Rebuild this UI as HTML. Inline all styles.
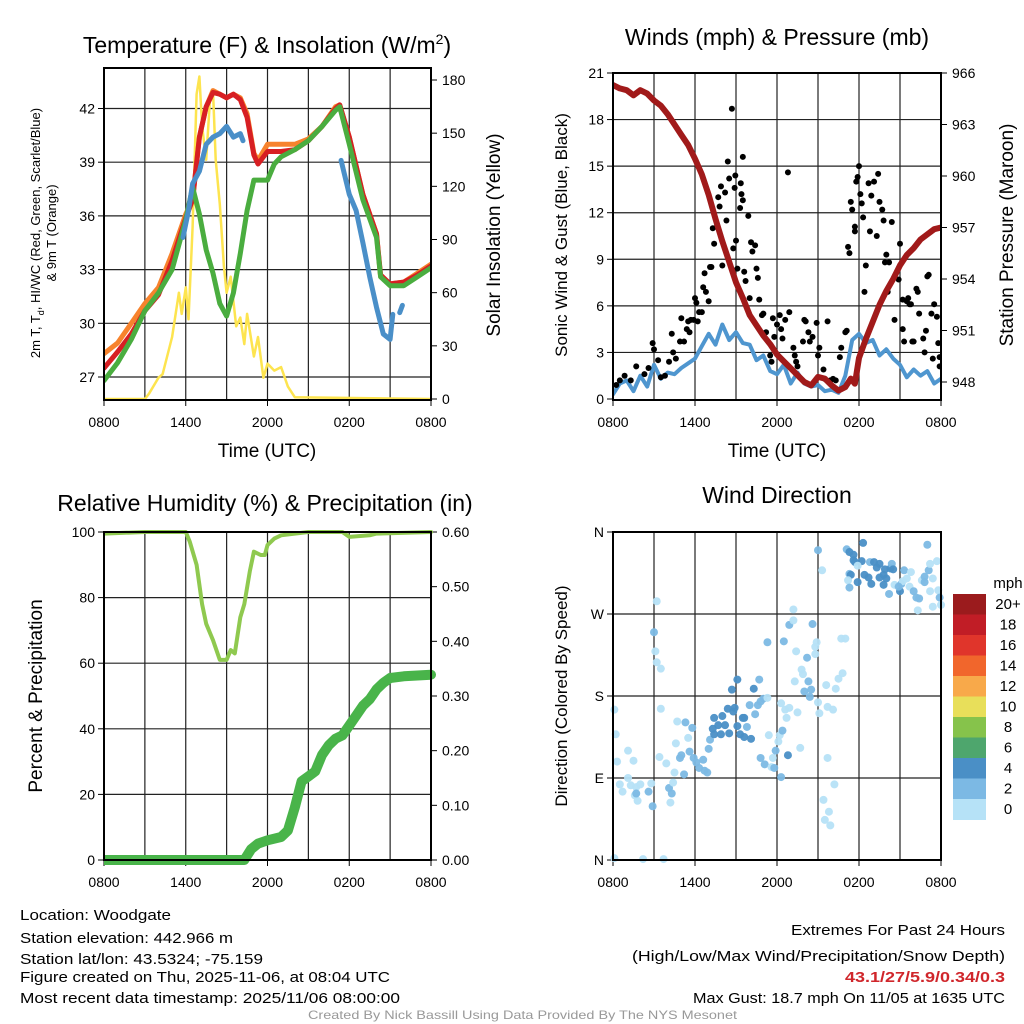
<!DOCTYPE html>
<html><head><meta charset="utf-8"><style>
html,body{margin:0;padding:0;background:#fff}
svg{display:block}
text{font-family:"Liberation Sans",sans-serif;fill:#000}
</style></head><body>
<svg id="fig" width="1024" height="1024" viewBox="0 0 1024 1024" xmlns="http://www.w3.org/2000/svg">
<g id="p1"></g>
<g id="p2"></g>
<g id="p3"></g>
<g id="p4"></g>
<g id="txt">
<text x="20" y="920" font-size="15" textLength="151" lengthAdjust="spacingAndGlyphs">Location: Woodgate</text>
<text x="20" y="943" font-size="15" textLength="213" lengthAdjust="spacingAndGlyphs">Station elevation: 442.966 m</text>
<text x="20" y="964" font-size="15" textLength="243" lengthAdjust="spacingAndGlyphs">Station lat/lon: 43.5324; -75.159</text>
<text x="20" y="982" font-size="15" textLength="370" lengthAdjust="spacingAndGlyphs">Figure created on Thu, 2025-11-06, at 08:04 UTC</text>
<text x="20" y="1003" font-size="15" textLength="380" lengthAdjust="spacingAndGlyphs">Most recent data timestamp: 2025/11/06 08:00:00</text>
<text x="791" y="935" font-size="15" textLength="214" lengthAdjust="spacingAndGlyphs">Extremes For Past 24 Hours</text>
<text x="632" y="961" font-size="15" textLength="373" lengthAdjust="spacingAndGlyphs">(High/Low/Max Wind/Precipitation/Snow Depth)</text>
<text x="845" y="982" font-size="15" font-weight="bold" style="fill:#d0262b" textLength="160" lengthAdjust="spacingAndGlyphs">43.1/27/5.9/0.34/0.3</text>
<text x="693" y="1003" font-size="15" textLength="312" lengthAdjust="spacingAndGlyphs">Max Gust: 18.7 mph On 11/05 at 1635 UTC</text>
<text x="308" y="1019" font-size="12" style="fill:#999" textLength="429" lengthAdjust="spacingAndGlyphs">Created By Nick Bassill Using Data Provided By The NYS Mesonet</text>
</g>
</svg>
<script>
// ---------- DATA ----------
const xTickLabels = ["0800","1400","2000","0200","0800"];
// Panel 1
const tempTicks = [27,30,33,36,39,42];
const solarTicks = [0,30,60,90,120,150,180];
const tHours = [0,1,2,3,4,5,6,6.5,7,7.5,8,8.5,9,9.5,10,10.5,11,11.3,12,13,14,15,16,17,17.3,18,19,20,20.3,21,22,23,24];
const temp9m = [28.3,28.9,30,31.1,32,33.9,36.1,36.9,40.4,42.1,43,42.8,42.6,42.8,42.6,41.7,39.5,39.1,40.0,40.0,40.0,40.3,41.0,42.1,42.2,40.4,37.2,35.0,32.6,32.2,32.3,32.8,33.3];
const temp2m = [27.5,28.4,29.4,30.7,31.6,33.5,35.9,36.9,40.4,42.1,42.9,42.8,42.6,42.8,42.5,41.5,39.4,38.9,39.6,39.6,39.7,40.2,41.0,42.0,42.2,40.4,37.2,35.0,32.7,32.2,32.3,32.7,33.2];
const gHours = [0,1,2,3,4,5,6,6.5,7,7.5,8,8.5,9,9.5,10,10.5,11,12,12.5,13,14,15,16,17,17.3,18,19,20,20.3,21,22,23,24];
const dewHi = [26.8,27.8,29.1,30.7,31.7,33.0,35.8,37.6,36.1,34.1,32.8,31.1,30.4,31.7,33.9,36.3,38.0,38.0,38.9,39.3,39.7,40.2,41.0,41.9,42.1,40.0,36.9,34.8,32.6,32.1,32.1,32.6,33.1];
const wcHours1 = [5.8,6.2,6.5,7,7.5,8,8.5,9,9.5,10,10.2];
const windChill1 = [34.8,36.3,37.8,38.5,40.0,40.4,40.6,41.0,40.4,40.6,40.2];
const wcHours2 = [17.4,18,18.5,19,19.5,20,20.5,21,21.2];
const windChill2 = [39.1,37.2,36.3,34.5,32.6,30.9,29.4,29.1,30.5];
const wcHours3 = [21.7,21.9];
const windChill3 = [30.6,31.0];
const sHours = [0,3,3.3,4,4.3,5,5.5,5.7,6,6.2,6.5,6.8,7,7.2,7.5,7.8,8,8.2,8.5,8.8,9,9.3,9.7,10,10.3,10.5,11,11.3,11.7,12,12.5,13,13.5,14,24];
const solar = [0,0,3,12,14,35,60,48,63,45,97,172,182,154,135,172,174,135,110,75,60,69,41,46,31,48,24,35,12,20,16,18,7,1,0];
// Panel 2
const windTicks = [0,3,6,9,12,15,18,21];
const presTicks = [948,951,954,957,960,963,966];
const pHours = [0,0.5,1,1.5,2,2.5,3,3.5,4,4.5,5,5.5,6,6.5,7,7.5,8,8.5,9,9.5,10,10.5,11,11.5,12,12.5,13,13.5,14,14.5,15,15.5,16,16.5,17,17.4,17.7,18,18.5,19,19.5,20,20.5,21,21.5,22,22.5,23,23.5,24];
const pressure = [965.3,965.1,965.0,964.7,965.0,964.8,964.4,964.1,963.6,963.0,962.4,961.8,961.0,960.1,958.9,957.5,956.2,955.0,953.8,952.9,951.9,951.3,950.7,950.2,949.6,949.2,948.8,948.4,948.0,947.8,948.3,948.2,947.8,947.5,947.7,948.2,947.9,949.4,950.5,951.5,952.5,953.3,954.0,954.8,955.4,955.8,956.3,956.6,956.9,957.0];
const wHours = [0,0.5,1,1.5,2,2.5,3,3.5,4,4.5,5,5.5,6,6.5,7,7.5,8,8.5,9,9.5,10,10.5,11,11.5,12,12.5,13,13.5,14,14.5,15,15.5,16,16.5,17,17.5,18,18.5,19,19.5,20,20.5,21,21.5,22,22.5,23,23.5,24];
const windSpeed = [0.3,1.0,1.2,0.5,1.5,0.8,2.2,1.3,1.7,1.6,2.0,2.3,2.6,3.4,4.2,3.5,4.8,3.8,4.3,3.6,3.5,2.5,2.8,1.8,1.6,2.2,1.0,1.7,1.0,0.8,0.9,0.5,0.6,0.4,1.5,3.8,4.2,3.6,3.8,2.8,3.2,2.6,2.2,1.4,1.9,1.5,1.8,1.0,1.3];
const gustHours = [0.24,0.5,0.85,1.3,1.7,2.3,2.6,2.9,3.0,3.3,3.5,3.8,4.1,4.3,4.4,4.6,4.9,5.0,5.2,5.4,5.5,5.6,5.7,5.9,6.0,6.1,6.2,6.3,6.5,6.6,6.7,6.8,7.0,7.1,7.2,7.3,7.4,7.6,7.7,7.8,7.9,8.0,8.2,8.3,8.4,8.5,8.7,8.8,8.9,8.95,9.0,9.1,9.3,9.35,9.4,9.5,9.5,9.6,9.7,9.9,10.0,10.1,10.2,10.4,10.5,10.6,10.7,10.9,11.0,11.2,11.5,11.6,11.7,11.8,12.0,12.2,12.3,12.4,12.6,12.8,12.9,13.2,13.3,13.4,13.5,13.9,14.0,14.1,14.3,14.4,14.6,14.9,15.0,15.1,15.4,15.5,15.7,15.9,16.1,16.3,16.6,16.7,17.0,17.1,17.2,17.3,17.4,17.5,17.7,17.7,17.8,17.9,18.0,18.1,18.2,18.3,18.4,18.5,18.7,18.8,18.9,19.1,19.3,19.4,19.5,19.7,19.8,19.9,20.0,20.1,20.2,20.4,20.6,20.9,21.0,21.2,21.2,21.3,21.5,21.6,21.7,21.8,21.9,22.0,22.2,22.3,22.4,22.7,22.8,22.9,23.0,23.1,23.3,23.4,23.5,23.7,23.8,23.9,23.9];
const gustSpeed = [0.9,1.2,1.5,1.2,2.1,1.6,2.0,3.6,3.2,2.5,1.4,1.5,2.4,4.2,3.0,2.6,3.7,5.2,3.7,4.5,5.0,4.3,5.1,5.1,6.5,6.2,5.0,5.6,5.6,7.2,8.1,6.9,6.3,8.5,8.5,11.0,10.0,11.1,13.0,12.4,13.7,8.6,13.3,11.5,15.3,14.2,18.7,9.7,13.6,14.4,10.2,8.4,12.3,13.9,13.2,15.6,12.8,8.2,7.6,11.8,6.5,10.1,9.5,9.9,8.4,7.8,6.4,5.4,5.5,4.3,2.8,2.4,5.2,4.0,4.8,5.4,4.5,3.9,5.1,14.6,5.6,3.3,2.8,2.4,2.1,3.7,5.1,5.0,4.3,3.7,4.0,4.9,2.8,3.3,1.9,1.3,5.0,1.2,1.3,1.2,2.7,3.3,4.3,4.4,9.8,9.4,12.7,12.2,10.8,11.1,14.0,14.3,15.0,13.2,12.6,11.7,6.9,8.6,13.9,10.8,13.1,14.0,10.5,14.5,12.7,12.2,11.5,8.8,9.3,6.9,8.8,11.4,5.1,7.7,10.0,6.4,4.5,3.7,6.3,6.5,6.1,6.1,3.7,3.7,7.1,6.9,5.5,3.9,3.0,4.4,7.9,8.0,5.5,2.6,6.1,5.3,3.6,2.1,2.7];
// Panel 3
const rhTicks = [0,20,40,60,80,100];
const prTicks = ["0.00","0.10","0.20","0.30","0.40","0.50","0.60"];
const rhHours = [0,3,6,6.3,6.8,7.2,7.5,8,8.5,9,9.3,9.6,10,10.3,10.7,11,11.5,11.8,12,12.5,13,15,17.5,18,19.5,20,24];
const rh = [99.5,100,100,97,90,78,72,67,61,61,64,63,74,78,88,94,93,93,96,98,99,100,100,98.5,99,99.5,100];
const prHours = [0,10.3,10.8,11.3,12,13,13.5,14,14.5,15,15.5,16,16.5,17,17.5,18,18.5,19,19.5,20,20.5,21,22,24];
const precip = [0,0,0.02,0.03,0.036,0.042,0.054,0.096,0.144,0.153,0.162,0.192,0.21,0.222,0.228,0.246,0.264,0.282,0.294,0.312,0.324,0.333,0.336,0.339];
// Panel 4
const dirTicks = ["N","E","S","W","N"];
const speedClasses = ["0","2","4","6","8","10","12","14","16","18","20+"];
const classColors = ["#b6e2f7","#7cb9e4","#4a8fc6","#4ea66d","#86c34b","#e8df5a","#f8a94a","#f1662c","#e0352b","#c11d26","#9b1b1d"];
const dirHours = [0.1,2.2,3.7,0.1,0.2,0.3,1.1,1.5,1.1,0.5,0.7,1.3,1.7,2.0,1.6,1.8,1.7,2.6,2.8,2.9,3.2,3.0,3.1,3.2,3.5,3.5,3.4,3.9,4.1,4.3,4.2,4.4,4.5,4.6,4.7,4.9,5.0,5.2,5.3,5.5,5.6,5.8,5.9,6.1,6.3,6.6,6.7,6.9,7.0,7.1,7.3,7.4,7.4,7.7,7.9,8.0,8.2,8.4,8.5,8.7,8.8,8.9,9.1,9.1,9.3,9.5,9.6,9.6,9.8,10.1,10.0,10.3,10.4,10.6,10.7,10.8,11.0,11.3,10.8,11.1,11.3,11.4,11.6,11.7,11.8,11.9,12.1,12.2,12.3,12.3,12.4,12.5,12.6,12.7,12.8,12.9,12.9,13.2,13.2,13.3,13.4,13.5,13.7,13.8,13.9,14.0,14.2,14.3,14.4,14.5,14.6,14.8,14.8,14.9,15.0,15.1,15.0,15.3,15.4,15.5,15.6,15.7,15.7,15.8,15.9,16.1,16.2,16.3,16.5,16.7,16.8,17.0,17.1,17.3,17.6,17.6,17.7,18.2,18.3,17.3,17.4,17.2,17.3,17.9,18.4,18.7,18.9,18.8,19.1,19.3,19.5,19.8,19.9,20.0,20.3,20.4,20.5,20.2,19.8,19.5,20.6,21.0,21.1,21.3,21.5,21.7,21.8,22.0,22.2,22.3,22.4,22.6,22.8,22.8,23.0,23.1,23.2,23.4,23.7,23.8,23.9,24.0,23.4,23.2,21.2,20.9,17.9];
const dirDeg = [2,1,1,165,138,108,120,109,90,83,75,82,80,83,71,65,73,75,84,59,284,250,229,217,210,166,113,106,79,73,63,85,96,128,152,112,115,94,151,134,119,145,112,107,101,110,98,96,122,132,144,156,138,148,138,158,148,166,139,187,163,167,198,147,138,156,156,135,146,133,170,188,160,170,198,174,177,178,112,105,239,137,102,112,101,120,130,137,172,91,142,240,165,156,115,258,167,263,275,196,229,162,123,209,204,185,222,196,179,187,259,234,226,239,173,161,340,318,66,44,192,168,112,53,38,165,83,188,199,243,205,243,341,338,335,329,327,328,348,314,313,307,299,305,313,310,303,327,327,321,325,313,319,309,320,325,319,292,302,310,302,295,303,318,309,300,316,295,288,274,287,307,305,311,346,318,325,309,328,296,288,280,278,295,306,300,323];
const dirClass = [0,0,0,0,0,0,0,0,0,0,0,0,0,0,0,0,1,1,0,1,0,1,0,0,0,0,0,0,1,1,0,0,0,0,0,1,1,1,1,0,1,1,1,1,1,1,1,1,1,1,2,2,2,2,2,2,2,2,2,2,2,2,2,2,2,2,2,2,1,2,1,2,1,1,1,1,1,0,1,1,1,0,0,0,1,1,0,0,0,1,1,1,0,0,2,1,0,0,0,0,0,0,0,0,0,1,1,1,1,1,1,0,0,0,0,0,1,0,0,0,0,0,0,0,0,0,0,0,0,0,0,0,1,2,2,2,2,2,2,1,2,0,1,2,2,2,2,1,2,2,2,2,2,2,2,1,2,1,2,2,0,2,1,1,0,0,0,1,1,0,1,0,1,1,1,1,0,0,0,0,1,0,0,0,0,1,0,3];

// ---------- HELPERS ----------
const NS="http://www.w3.org/2000/svg";
function mk(parent,tag,attrs,txt){const e=document.createElementNS(NS,tag);for(const k in attrs)e.setAttribute(k,attrs[k]);if(txt!==undefined)e.textContent=txt;parent.appendChild(e);return e;}
function linScale(d0,d1,r0,r1){return v=>r0+(v-d0)*(r1-r0)/(d1-d0);}
function pathD(xs,ys,sx,sy){let d="";for(let i=0;i<xs.length;i++){d+=(i?"L":"M")+sx(xs[i]).toFixed(1)+","+sy(ys[i]).toFixed(1);}return d;}

function frame(g,x0,x1,y0,y1,sx,yTicksL,syL,lblL,yTicksR,syR,lblR){
  for(let h=3;h<24;h+=3){const gl=mk(g,"line",{x1:sx(h),x2:sx(h),y1:y0,y2:y1,stroke:"#222","stroke-width":1.2});
    
    }
  yTicksL.forEach((t,i)=>{const y=syL(t);
    if(y>y0+1&&y<y1-1){const gl=mk(g,"line",{x1:x0,x2:x1,y1:y,y2:y,stroke:"#222","stroke-width":1.2});
      
      }
    mk(g,"line",{x1:x0-6,x2:x0,y1:y,y2:y,stroke:"#000","stroke-width":1});
    const tl=mk(g,"text",{x:x0-9,y:y+5,"font-size":14,"text-anchor":"end"},lblL[i]);
    
    
  });
  yTicksR.forEach((t,i)=>{const y=syR(t);
    mk(g,"line",{x1:x1,x2:x1+6,y1:y,y2:y,stroke:"#000","stroke-width":1});
    const tl=mk(g,"text",{x:x1+11,y:y+5,"font-size":14,"text-anchor":"start"},lblR[i]);
    
    
  });
  xTickLabels.forEach((l,i)=>{const x=sx(i*6);
    mk(g,"line",{x1:x,x2:x,y1:y1,y2:y1+6,stroke:"#000","stroke-width":1});
    const tl=mk(g,"text",{x:x,y:y1+27,"font-size":14,"text-anchor":"middle"},l);
    
    
  });
}
function border(g,x0,x1,y0,y1){const r=mk(g,"rect",{x:x0,y:y0,width:x1-x0,height:y1-y0,fill:"none",stroke:"#000","stroke-width":2});
  
  }
function line(g,xs,ys,sx,sy,color,w,name){const p=mk(g,"path",{d:pathD(xs,ys,sx,sy),fill:"none",stroke:color,"stroke-width":w,"stroke-linejoin":"round","stroke-linecap":"round"});
  
  return p;}
function label(g,x,y,s,txt,rot,name){const t=mk(g,"text",{x:x,y:y,"font-size":s,"text-anchor":"middle",transform:rot?`rotate(-90 ${x} ${y})`:""},txt);
  
  return t;}

// ---------- PANEL 1 ----------
(function(){
  const g=document.getElementById("p1");
  const x0=104,x1=431,y0=68,y1=400;
  const sx=linScale(0,24,x0,x1), sy=linScale(27,42,377,108.5), ss=linScale(0,180,399,80);
  frame(g,x0,x1,y0,y1,sx,tempTicks,sy,tempTicks.map(String),solarTicks,ss,solarTicks.map(String));
  const clip=mk(g,"clipPath",{id:"c1"});mk(clip,"rect",{x:x0,y:y0,width:x1-x0,height:y1-y0});
  const d=mk(g,"g",{"clip-path":"url(#c1)"});
  line(d,sHours,solar,sx,ss,"#fde44f",2.5,"solar-insolation-line");
  line(d,tHours,temp9m,sx,sy,"#f7832d",5,"9m-temperature-line");
  line(d,tHours,temp2m,sx,sy,"#d71f23",5,"2m-temperature-line");
  line(d,gHours,dewHi,sx,sy,"#4aad3f",5,"dewpoint-line");
  line(d,wcHours1,windChill1,sx,sy,"#4a8fc8",5,"windchill-line-1");
  line(d,wcHours2,windChill2,sx,sy,"#4a8fc8",5,"windchill-line-2");
  line(d,wcHours3,windChill3,sx,sy,"#4a8fc8",5,"windchill-line-3");
  border(g,x0,x1,y0,y1);
  const t=mk(g,"text",{x:267,y:53,"font-size":23,"text-anchor":"middle"});
  
  
  t.innerHTML='Temperature (F) &amp; Insolation (W/m<tspan dy="-9" font-size="14">2</tspan><tspan dy="9">)</tspan>';
  const yl=mk(g,"text",{x:40,y:233,"font-size":13,"text-anchor":"middle",transform:"rotate(-90 40 233)"});
  
  
  yl.innerHTML='2m T, T<tspan dy="4" font-size="9">d</tspan><tspan dy="-4">, HI/WC (Red, Green, Scarlet/Blue)</tspan>';
  label(g,56,233,13,"& 9m T (Orange)",true,"temperature-y-axis-title-line2");
  label(g,500,235,19,"Solar Insolation (Yellow)",true,"solar-y-axis-title");
  label(g,267,457,19,"Time (UTC)",false,"x-axis-title");
})();

// ---------- PANEL 2 ----------
(function(){
  const g=document.getElementById("p2");
  const x0=613,x1=941,y0=73,y1=400;
  const sx=linScale(0,24,x0,x1), sw=linScale(0,21,399,73), sp=linScale(948,966,382,73);
  frame(g,x0,x1,y0,y1,sx,windTicks,sw,windTicks.map(String),presTicks,sp,presTicks.map(String));
  const clip=mk(g,"clipPath",{id:"c2"});mk(clip,"rect",{x:x0,y:y0,width:x1-x0,height:y1-y0});
  const d=mk(g,"g",{"clip-path":"url(#c2)"});
  line(d,wHours,windSpeed,sx,sw,"#4f96cf",4,"wind-speed-line");
  gustHours.forEach((h,i)=>{const c=mk(d,"circle",{cx:sx(h),cy:sw(gustSpeed[i]),r:3,fill:"#000"});
    
    });
  line(d,pHours,pressure,sx,sp,"#a11a1a",6,"pressure-line");
  border(g,x0,x1,y0,y1);
  label(g,777,45,23,"Winds (mph) & Pressure (mb)",false,"wind-title");
  label(g,567,235,17,"Sonic Wind & Gust (Blue, Black)",true,"wind-y-axis-title");
  label(g,1013,235,19,"Station Pressure (Maroon)",true,"pressure-y-axis-title");
  label(g,777,457,19,"Time (UTC)",false,"x-axis-title");
})();

// ---------- PANEL 3 ----------
(function(){
  const g=document.getElementById("p3");
  const x0=104,x1=431,y0=532,y1=860;
  const sx=linScale(0,24,x0,x1), sy=linScale(0,100,860,532), sr=linScale(0,0.6,860,532);
  const prVals=prTicks.map(Number);
  frame(g,x0,x1,y0,y1,sx,rhTicks,sy,rhTicks.map(String),prVals,sr,prTicks);
  const clip=mk(g,"clipPath",{id:"c3"});mk(clip,"rect",{x:x0,y:y0-3,width:x1-x0+6,height:y1-y0+8});
  const d=mk(g,"g",{"clip-path":"url(#c3)"});
  line(d,rhHours,rh,sx,sy,"#8fc94f",4,"relative-humidity-line");
  line(d,prHours,precip,sx,sr,"#49b44a",10,"precipitation-line");
  border(g,x0,x1,y0,y1);
  label(g,265,511,23,"Relative Humidity (%) & Precipitation (in)",false,"humidity-title");
  label(g,42,696,19,"Percent & Precipitation",true,"humidity-y-axis-title");
})();

// ---------- PANEL 4 ----------
(function(){
  const g=document.getElementById("p4");
  const x0=613,x1=941,y0=532,y1=860;
  const sx=linScale(0,24,x0,x1), sd=linScale(0,360,860,532);
  frame(g,x0,x1,y0,y1,sx,[0,90,180,270,360],sd,dirTicks,[],sd,[]);
  dirHours.forEach((h,i)=>{const c=mk(g,"circle",{cx:sx(h),cy:sd(dirDeg[i]),r:4,fill:classColors[dirClass[i]],"fill-opacity":0.95});
    
    });
  border(g,x0,x1,y0,y1);
  label(g,777,503,23,"Wind Direction",false,"wind-direction-title");
  label(g,567,696,17,"Direction (Colored By Speed)",true,"direction-y-axis-title");
  const cb=mk(g,"g",{});
  
  
  label(cb,1008,588,15,"mph",false,"colorbar-unit");
  const top=594, bh=20.5;
  for(let i=classColors.length-1;i>=0;i--){const k=classColors.length-1-i;
    const r=mk(cb,"rect",{x:953,y:top+k*bh,width:33,height:bh+0.5,fill:classColors[i]});
    
    
    const t=mk(cb,"text",{x:1008,y:top+k*bh+15,"font-size":15,"text-anchor":"middle"},speedClasses[i]);
    
    }
})();
</script>
</body></html>
